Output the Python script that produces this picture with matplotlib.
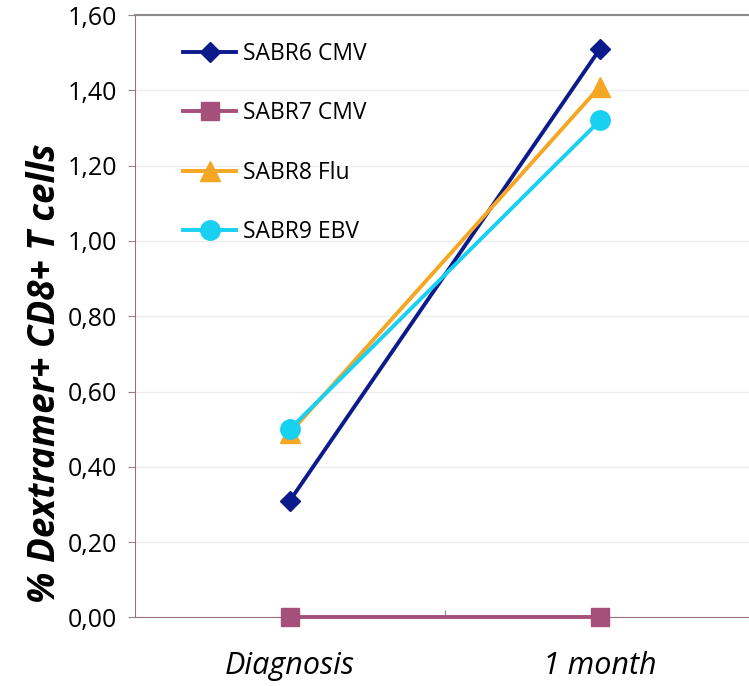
import matplotlib
matplotlib.use("Agg")
from matplotlib import pyplot as plt

categories = ["Diagnosis", "1 month"]
series_names = ["SABR6 CMV", "SABR7 CMV", "SABR8 Flu", "SABR9 EBV"]
sabr6 = [0.31, 1.51]
sabr7 = [0.00, 0.00]
sabr8 = [0.49, 1.41]
sabr9 = [0.50, 1.32]
yticks = [0.0, 0.2, 0.4, 0.6, 0.8, 1.0, 1.2, 1.4, 1.6]

plt.rcParams['font.family'] = ['Open Sans', 'DejaVu Sans']

fig = plt.figure(figsize=(7.49, 6.86), dpi=100)
ax = fig.add_axes([0.180, 0.100, 0.828, 0.878])

x = range(len(categories))
styles = [
    (sabr6, "#0d1a8c", "D", 10),
    (sabr7, "#a5507a", "s", 13),
    (sabr8, "#f5a623", "^", 14),
    (sabr9, "#18d0f0", "o", 14),
]
for (vals, col, mk, ms), name in zip(styles, series_names):
    ax.plot(x, vals, color=col, marker=mk, markersize=ms, linewidth=2.8,
            label=name, zorder=3, clip_on=False)

ax.set_xlim(-0.5, 1.5)
ax.set_ylim(0, 1.6)
ax.set_yticks(yticks)
ax.set_yticklabels([f"{v:.2f}".replace(".", ",") for v in yticks], fontsize=18)
ax.set_xticks([0.5])
ax.set_xticklabels([""])
for i, c in enumerate(categories):
    ax.text(i, -0.13, c, ha="center", va="center", fontsize=22, style="italic",
            transform=ax.transData)
ax.tick_params(axis="y", length=5, color="#9a8088", pad=8)
ax.tick_params(axis="x", length=5, color="#9a8088", direction="in")

ax.grid(axis="y", color="#ececec", linewidth=1)
ax.set_axisbelow(True)
ax.spines["top"].set_color("#8a8a8a")
ax.spines["top"].set_linewidth(1.5)
ax.spines["left"].set_color("#9a7080")
ax.spines["bottom"].set_color("#9a7080")
ax.spines["right"].set_visible(False)

ax.set_ylabel("% Dextramer+ CD8+ T cells", fontsize=26.5, fontweight="bold",
              style="italic")
ax.yaxis.set_label_coords(-0.115, 0.405)

ax.legend(loc="upper left", bbox_to_anchor=(0.045, 0.99), frameon=False,
          fontsize=16.5, labelspacing=1.55, handlelength=2.3, handletextpad=0.3)

fig.savefig("out.png", dpi=100)
